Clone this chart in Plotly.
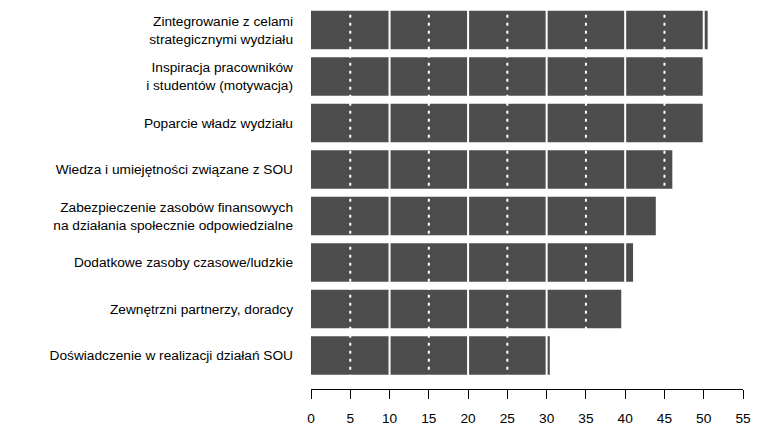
import plotly.graph_objects as go

# Bar labels (top to bottom) and values
labels = [
    "Zintegrowanie z celami<br>strategicznymi wydziału",
    "Inspiracja pracowników<br>i studentów (motywacja)",
    "Poparcie władz wydziału",
    "Wiedza i umiejętności związane z SOU",
    "Zabezpieczenie zasobów finansowych<br>na działania społecznie odpowiedzialne",
    "Dodatkowe zasoby czasowe/ludzkie",
    "Zewnętrzni partnerzy, doradcy",
    "Doświadczenie w realizacji działań SOU",
]
values = [50.5, 49.9, 49.9, 46.0, 43.9, 41.0, 39.5, 30.4]

x_ticks = list(range(0, 56, 5))
solid_lines = [10, 20, 30, 40, 50]
dotted_lines = [5, 15, 25, 35, 45]

positions = list(range(len(labels)))

fig = go.Figure(go.Bar(
    x=values,
    y=positions,
    orientation="h",
    marker=dict(color="#4d4d4d", line=dict(width=0)),
    width=0.83,
    hoverinfo="x",
))

# white grid lines drawn on top of the bars
for v in solid_lines:
    fig.add_shape(type="line", x0=v, x1=v, y0=-0.5, y1=len(labels) - 0.5,
                  xref="x", yref="y", layer="above",
                  line=dict(color="white", width=2))
for v in dotted_lines:
    fig.add_shape(type="line", x0=v, x1=v, y0=-0.5, y1=len(labels) - 0.5,
                  xref="x", yref="y", layer="above",
                  line=dict(color="white", width=2, dash="3px,5px"))

# the page body adds an 8px margin, so the margins are shifted to compensate
fig.update_layout(
    width=778,
    height=432,
    margin=dict(l=303, r=43, t=0, b=51),
    plot_bgcolor="white",
    paper_bgcolor="white",
    font=dict(family="Arial, Liberation Sans, sans-serif", size=13.7, color="black"),
    showlegend=False,
    xaxis=dict(
        range=[0, 55],
        tickvals=x_ticks,
        showgrid=False,
        zeroline=False,
        showline=True,
        linecolor="black",
        linewidth=1,
        ticks="outside",
        ticklen=9,
        tickcolor="black",
        ticklabelstandoff=8,
        automargin=False,
        fixedrange=True,
    ),
    yaxis=dict(
        range=[7.72, -0.473],
        tickvals=positions,
        ticktext=labels,
        showgrid=False,
        zeroline=False,
        showline=False,
        ticks="",
        ticklabelstandoff=17,
        automargin=False,
        fixedrange=True,
    ),
)

fig.write_html("out.html")
